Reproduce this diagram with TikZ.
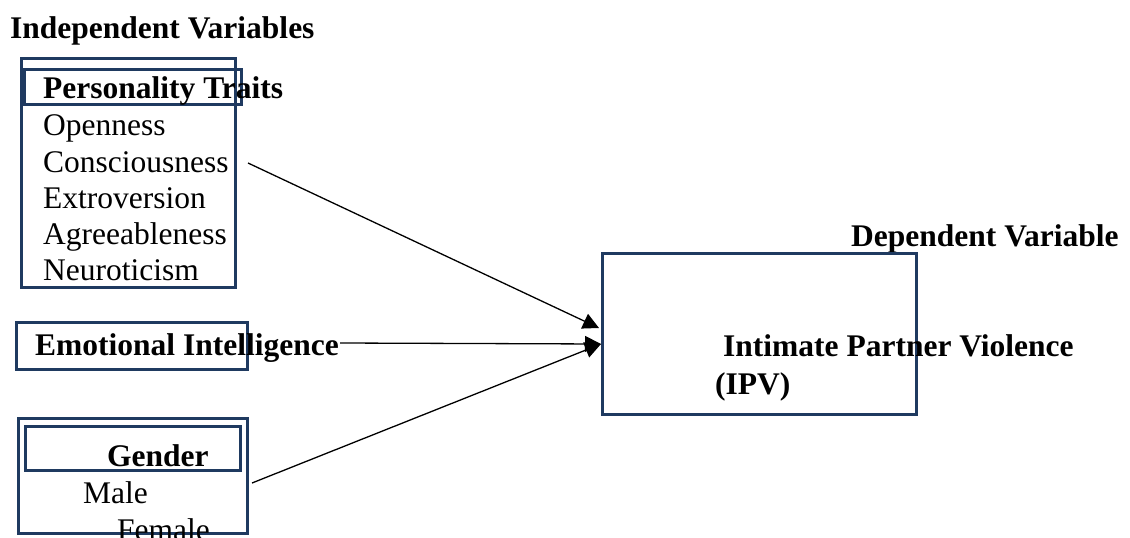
\documentclass[tikz,border=0pt]{standalone}
\usepackage{fontspec}
\setmainfont{Liberation Serif}
\usetikzlibrary{arrows.meta}
\definecolor{navy}{HTML}{1F3A60}
\tikzset{
  box/.style={draw=navy, line width=3pt, rectangle, inner sep=0pt, anchor=north west},
  txt/.style={anchor=base west, inner sep=0pt, font=\fontsize{31.5}{36}\selectfont},
  btxt/.style={txt, font=\fontsize{31.5}{36}\selectfont\bfseries},
  conn/.style={draw=black, line width=1.3pt},
  arr/.style={conn, -{Triangle[length=16pt,width=16pt]}}
}
\begin{document}
\begin{tikzpicture}[x=1pt,y=-1pt]
\useasboundingbox (0,0) rectangle (1130,538);
% titles
\node[btxt] (indep) at (10,38) {Independent Variables};
\node[btxt] (dep) at (851,246) {Dependent Variable};
% personality traits group
\node[box, minimum width=214pt, minimum height=229pt] (ptbox) at (20,57) {};
\node[box, minimum width=217pt, minimum height=35pt] (pttitle) at (23,68) {};
\node[btxt] (pt) at (43,98) {Personality Traits};
\node[txt] (open) at (43,135) {Openness};
\node[txt] (cons) at (43,172) {Consciousness};
\node[txt] (extr) at (43,208) {Extroversion};
\node[txt] (agre) at (43,244) {Agreeableness};
\node[txt] (neur) at (43,280) {Neuroticism};
% emotional intelligence
\node[box, minimum width=231pt, minimum height=47pt] (eibox) at (15,321) {};
\node[btxt] (ei) at (35,355) {Emotional Intelligence};
% gender group
\node[box, minimum width=229pt, minimum height=115pt] (gbox) at (17,417) {};
\node[box, minimum width=215pt, minimum height=44pt] (gtitle) at (24,425) {};
\node[btxt] (gender) at (107,466) {Gender};
\node[txt] (male) at (83,503) {Male};
\node[txt] (female) at (117,540) {Female};
% dependent variable box
\node[box, minimum width=314pt, minimum height=161pt] (ipvbox) at (601,252) {};
\node[btxt] (ipv1) at (723,356) {Intimate Partner Violence};
\node[btxt] (ipv2) at (715,394) {(IPV)};
% connectors
\coordinate (c1) at (248,163);
\coordinate (c2) at (340,343);
\coordinate (c3) at (252,483);
\coordinate (t1) at (599,328);
\coordinate (t2) at (601,344);
\draw[arr] (c1) -- (t1);
\draw[arr] (c2) -- (t2);
\draw[arr] (c3) -- (t2);
\end{tikzpicture}
\end{document}
